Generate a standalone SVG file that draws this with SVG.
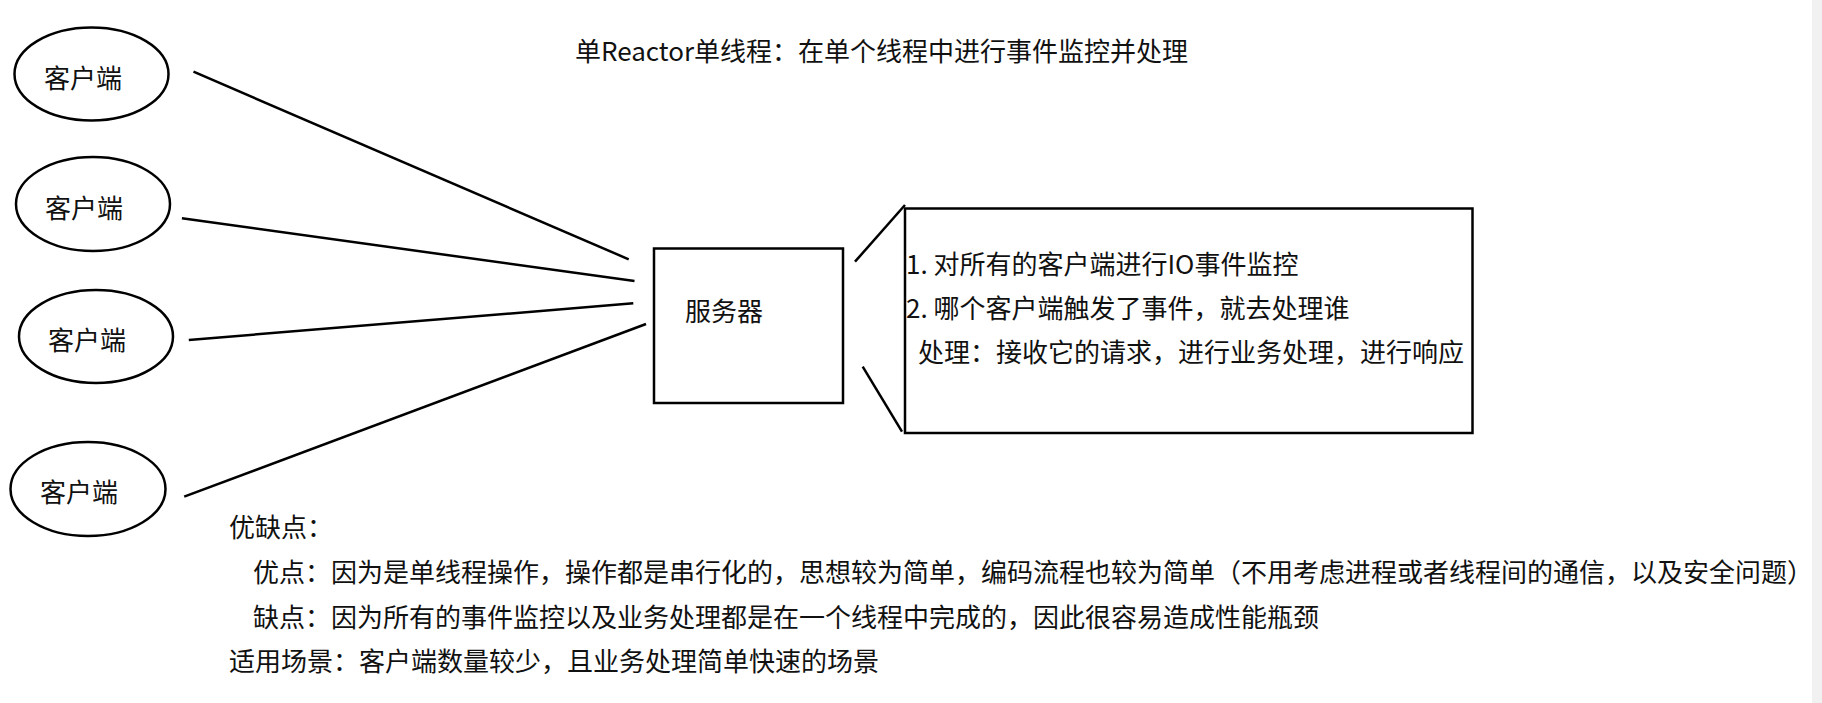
<svg xmlns="http://www.w3.org/2000/svg" width="1822" height="703" viewBox="0 0 1822 703">
<style>
text{font-family:"Noto Sans CJK SC","Noto Sans",sans-serif;font-size:26px;fill:#111}
.n{fill:#fff;stroke:#000;stroke-width:2.5}
.c line{stroke:#000;stroke-width:2.5;stroke-linecap:butt}
</style>
<rect x="0" y="0" width="1822" height="703" fill="#fff"/>
<rect x="1812" y="0" width="10" height="703" fill="#f1f1f1"/>
<text id="title" x="575" y="61">单Reactor单线程：在单个线程中进行事件监控并处理</text>
<g class="c" id="connectors">
<line x1="193.5" y1="71.7" x2="628.7" y2="259.3"/>
<line x1="181.9" y1="218.3" x2="634.5" y2="281"/>
<line x1="188.8" y1="340" x2="633.3" y2="303.3"/>
<line x1="184.2" y1="496.7" x2="646" y2="324"/>
<line x1="855" y1="261.7" x2="905" y2="205"/>
<line x1="862.7" y1="366.7" x2="902" y2="431.7"/>
</g>
<g id="client1"><ellipse class="n" cx="91.5" cy="74" rx="77" ry="46.5"/><text x="44" y="88">客户端</text></g>
<g id="client2"><ellipse class="n" cx="93" cy="204" rx="77" ry="47"/><text x="45" y="218">客户端</text></g>
<g id="client3"><ellipse class="n" cx="96" cy="336.5" rx="77" ry="46.5"/><text x="48" y="350">客户端</text></g>
<g id="client4"><ellipse class="n" cx="88" cy="489" rx="77.5" ry="47"/><text x="40" y="502">客户端</text></g>
<g id="server"><rect class="n" x="654" y="248.5" width="189" height="154.5" stroke-width="3"/><text x="685" y="321">服务器</text></g>
<g id="desc"><rect class="n" x="905" y="208.5" width="567.5" height="224.5" stroke-width="3"/>
<text x="906" y="274">1. 对所有的客户端进行IO事件监控</text>
<text x="906" y="318">2. 哪个客户端触发了事件，就去处理谁</text>
<text x="918" y="362">处理：接收它的请求，进行业务处理，进行响应</text>
</g>
<g id="notes">
<text x="229" y="537">优缺点：</text>
<text x="253" y="582">优点：因为是单线程操作，操作都是串行化的，思想较为简单，编码流程也较为简单（不用考虑进程或者线程间的通信，以及安全问题）</text>
<text x="253" y="627">缺点：因为所有的事件监控以及业务处理都是在一个线程中完成的，因此很容易造成性能瓶颈</text>
<text x="229" y="671">适用场景：客户端数量较少，且业务处理简单快速的场景</text>
</g>
</svg>
